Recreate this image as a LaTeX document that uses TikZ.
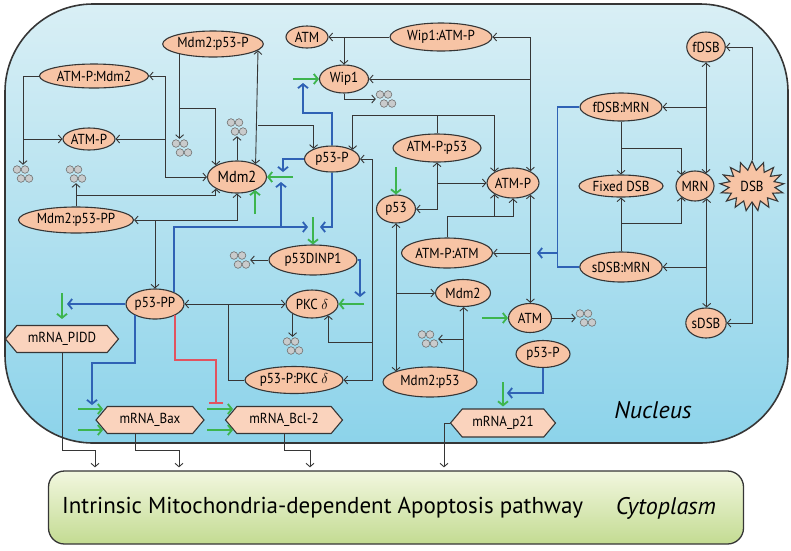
\documentclass[tikz,border=0pt]{standalone}
\usepackage{fontspec}
\setmainfont{PT Sans}
\newfontfamily\nf{PT Sans}[FakeStretch=0.9]
\usetikzlibrary{shapes.geometric,shapes.symbols,arrows.meta}
\definecolor{linec}{HTML}{363636}
\definecolor{nodefill}{HTML}{F7C4A5}
\definecolor{hexfill}{HTML}{FAD3BD}
\definecolor{nucTop}{HTML}{D9EFF5}
\definecolor{nucBot}{HTML}{8CD3EA}
\definecolor{cytTop}{HTML}{F2F7DF}
\definecolor{cytBot}{HTML}{C3DB92}
\definecolor{bluel}{HTML}{2F62B5}
\definecolor{greenl}{HTML}{3DB54E}
\definecolor{redl}{HTML}{E2535F}
\definecolor{degfill}{HTML}{C9CBCC}
\definecolor{degline}{HTML}{6E6E6E}
\tikzset{
 el/.style={ellipse, draw=linec, line width=1.1pt, fill=nodefill, inner sep=0pt, font=\nf\fontsize{14.5}{16}\selectfont},
 hex/.style={signal, signal to=west and east, signal pointer angle=100, draw=linec, line width=1.1pt, fill=hexfill, inner sep=0pt, font=\nf\fontsize{14.5}{16}\selectfont},
 starb/.style={starburst, starburst points=17, starburst point height=9pt, random starburst=0, draw=linec, fill=nodefill, line width=1.1pt, inner sep=0pt, minimum width=64pt, minimum height=50pt, font=\nf\fontsize{14.5}{16}\selectfont},
 degr/.style={rectangle, minimum width=20pt, minimum height=18pt, inner sep=0pt},
 arr/.style={draw=linec, line width=0.9pt, -{Straight Barb[length=3.5pt,width=8pt]}},
 arrs/.style={draw=linec, line width=0.9pt, {Straight Barb[length=3.5pt,width=8pt]}-{Straight Barb[length=3.5pt,width=8pt]}},
 ln/.style={draw=linec, line width=0.9pt},
 barr/.style={draw=bluel, line width=1.8pt, -{Straight Barb[length=4pt,width=10pt]}},
 bln/.style={draw=bluel, line width=1.8pt},
 garr/.style={draw=greenl, line width=1.8pt, -{Straight Barb[length=4pt,width=10pt]}},
 rbar/.style={draw=redl, line width=1.8pt, -{Bar[width=14pt]}},
 cytobox/.style={rectangle, rounded corners=16pt, minimum width=695pt, minimum height=73pt, top color=cytTop, bottom color=cytBot, draw=linec, line width=1.3pt},
}
\begin{document}
\begin{tikzpicture}[x=1pt,y=-1pt]
\useasboundingbox (0,0) rectangle (791,550);
% compartments
\draw[rounded corners=88pt, top color=nucTop, bottom color=nucBot, draw=linec, line width=1.6pt] (5,4) rectangle (788,443);
\node[cytobox] (cyto) at (396,507.5) {};
\node[font=\fontsize{23}{26}\selectfont, anchor=west, inner sep=0pt] (cytxt) at (62,508) {Intrinsic Mitochondria-dependent Apoptosis pathway};
\node[font=\fontsize{24}{28}\selectfont\itshape, inner sep=0pt] (cytlbl) at (666,508) {Cytoplasm};
\node[font=\fontsize{24}{28}\selectfont\itshape, inner sep=0pt] (nuclbl) at (653,410) {Nucleus};

% species
\node[el, minimum width=94pt, minimum height=26pt] (mp) at (213,44) {Mdm2:p53-P};
\node[el, minimum width=109pt, minimum height=24pt] (apm) at (94,76) {ATM-P:Mdm2};
\node[el, minimum width=52pt, minimum height=22pt] (ap1) at (89,139) {ATM-P};
\node[el, minimum width=59pt, minimum height=32pt, font=\nf\fontsize{16}{18}\selectfont] (mdm) at (237,177) {Mdm2};
\node[el, minimum width=42pt, minimum height=22pt] (atm1) at (307,37) {ATM};
\node[el, minimum width=102pt, minimum height=28pt] (wap) at (441,37) {Wip1:ATM-P};
\node[el, minimum width=49pt, minimum height=28pt] (wip) at (344,79) {Wip1};
\node[el, minimum width=55pt, minimum height=26pt] (p53p) at (332,159) {p53-P};
\node[el, minimum width=88pt, minimum height=28pt] (app53) at (437,148) {ATM-P:p53};
\node[el, minimum width=52pt, minimum height=30pt] (ap2) at (513,183) {ATM-P};
\node[el, minimum width=39pt, minimum height=28pt] (p53) at (396,209) {p53};
\node[el, minimum width=38pt, minimum height=30pt] (fdsb) at (706,47) {fDSB};
\node[el, minimum width=82pt, minimum height=28pt] (fmrn) at (621,107) {fDSB:MRN};
\node[el, minimum width=84pt, minimum height=22pt] (fixed) at (621,186) {Fixed DSB};
\node[el, minimum width=36pt, minimum height=30pt] (mrn) at (695,186) {MRN};
\node[starb] (dsb) at (752,186) {DSB};
\node[el, minimum width=91pt, minimum height=30pt] (apatm) at (447,253) {ATM-P:ATM};
\node[el, minimum width=80pt, minimum height=30pt] (smrn) at (621,267) {sDSB:MRN};
\node[el, minimum width=36pt, minimum height=30pt] (sdsb) at (706,323) {sDSB};
\node[el, minimum width=115pt, minimum height=26pt] (mpp) at (76,220) {Mdm2:p53-PP};
\node[el, minimum width=88pt, minimum height=30pt] (dinp) at (313,260) {p53DINP1};
\node[el, minimum width=58pt, minimum height=30pt] (p53pp) at (155,304) {p53-PP};
\node[el, minimum width=52pt, minimum height=28pt] (pkc) at (312,304) {PKC $\delta$};
\node[el, minimum width=55pt, minimum height=27pt] (mdm2b) at (463,293) {Mdm2};
\node[el, minimum width=43pt, minimum height=29pt] (atm2) at (530,318) {ATM};
\node[el, minimum width=54pt, minimum height=27pt] (p53p2) at (543,354) {p53-P};
\node[el, minimum width=94pt, minimum height=30pt] (mp53) at (430,382) {Mdm2:p53};
\node[el, minimum width=98pt, minimum height=27pt] (ppkc) at (294,380) {p53-P:PKC $\delta$};
\node[hex, minimum width=113pt, minimum height=27pt] (pidd) at (62,339) {mRNA\_PIDD};
\node[hex, minimum width=108pt, minimum height=27pt] (bax) at (150,420) {mRNA\_Bax};
\node[hex, minimum width=117pt, minimum height=27pt] (bcl) at (284,420) {mRNA\_Bcl-2};
\node[hex, minimum width=105pt, minimum height=28pt] (p21) at (503,423) {mRNA\_p21};

% degradation symbols
\node[degr] (d1) at (23,174) {};
\node[degr] (d2) at (76,174) {};
\node[degr] (d3) at (182,148) {};
\node[degr] (d4) at (237,127) {};
\node[degr] (d5) at (386,99) {};
\node[degr] (d6) at (240,260) {};
\node[degr] (d7) at (293,346) {};
\node[degr] (d8) at (428,339) {};
\node[degr] (d9) at (586,318) {};
\foreach \n in {d1,d2,d3,d4,d5,d6,d7,d8,d9}{
  \foreach \dx/\dy in {-6/4.5,2/4.5,-2/-4.5,6/-4.5}
    \draw[degline, fill=degfill, line width=0.6pt] ([shift={(\dx pt,\dy pt)}]\n.center) circle[radius=3.8pt];
}

% ATM-P:Mdm2
\draw[arr] (apm.west) -| (d1.north);
\draw[arr] (d1.north |- ap1.west) -- (ap1.west);
\draw[arrs] (apm.east) -| (165,177) -- (mdm.west);
\draw[arr] (ap1.east -| 165,0) -- (ap1.east);
% Mdm2:p53-P
\draw[arr] (mp.197) -- (mp.197 |- d3.north);
\draw[arr] (mp.197 |- 0,108) -| (mdm.151);
\draw[arrs] (mp.-8) -- (mdm.35);
\draw[arr] (mp.-8 |- 0,125) -| (p53p.151);
\draw[arr] (mdm.north) -- (d4.south);
% Mdm2:p53-PP
\draw[arr] (mpp.north) -- (d2.south);
\draw[arr] (mpp.north |- 0,195) -| (mdm.209);
\draw[arrs] (mpp.east) -| (mdm.south);
\draw[arr] (p53pp.north |- mpp.east) -- (p53pp.north);
% Wip1
\draw[arr] (wap.west) -- (atm1.east);
\draw[arr] (wip.north |- wap.west) -- (wip.north);
\draw[arr] (wip.south) |- (d5.west);
\draw[arrs] (wap.east) -| (ap2.34);
\draw[arr] (ap2.34 |- wip.east) -- (wip.east);
% ATM-P:p53
\draw[ln] (app53.north) -- (app53.north |- 0,115);
\draw[arr] (app53.north |- 0,115) -| (p53p.24);
\draw[arr] (app53.north |- 0,115) -| (ap2.149);
\draw[arrs] (app53.south) |- (p53.east);
\draw[arr] (app53.south |- ap2.west) -- (ap2.west);
% ATM-P:ATM
\draw[arr] (apatm.north) |- (ap2.south |- 0,216) -- (ap2.south);
\draw[arr] (ap2.-149 |- 0,216) -- (ap2.-149);
\draw[arrs] (ap2.-34) -- (ap2.-34 |- atm2.north);
\draw[arr] (ap2.-34 |- apatm.east) -- (apatm.east);
\draw[arr] (atm2.east) -- (d9.west);
% DSB / MRN
\draw[arr] (dsb.north) |- (fdsb.east);
\draw[arr] (dsb.south) |- (sdsb.east);
\draw[arrs] (fdsb.south) -- (fdsb.south |- mrn.47);
\draw[arr] (fdsb.south |- fmrn.east) -- (fmrn.east);
\draw[arrs] (mrn.-47) -- (mrn.-47 |- sdsb.north);
\draw[arr] (mrn.-47 |- smrn.east) -- (smrn.east);
\draw[arr] (fmrn.south) -- (fixed.north);
\draw[arr] (fmrn.south |- 0,148) -| (mrn.141);
\draw[arr] (smrn.north) -- (fixed.south);
\draw[arr] (smrn.north |- 0,223) -| (mrn.-141);
% p53 / Mdm2 lower
\draw[arrs] (p53.south) -- (p53.south |- mp53.163);
\draw[arr] (p53.south |- mdm2b.west) -- (mdm2b.west);
\draw[arr] (mp53.18) -- (mp53.18 |- mdm2b.south);
\draw[arr] (mp53.18 |- d8.east) -- (d8.east);
% PKC delta
\draw[arrs] (p53pp.east) -- (pkc.west);
\draw[ln] (ppkc.west) -| (p53pp.east -| 228,0);
\draw[arrs] (p53p.east) -| (372,380) -- (ppkc.east);
\draw[arr] (372,342) -| (pkc.-35);
\draw[arr] (pkc.207) -- (pkc.207 |- d7.north);
\draw[arr] (dinp.west) -- (d6.east);
% to cytoplasm
\draw[arr, shorten >=3pt] (pidd.south) |- (95,450) -- (95,0 |- cyto.north);
\draw[arr, shorten >=3pt] (bax.south -| 135,0) |- (179,450) -- (179,0 |- cyto.north);
\draw[arr, shorten >=3pt] (bcl.south) |- (310,450) -- (310,0 |- cyto.north);
\draw[arr, shorten >=3pt] (p21.west) -| (444,0 |- cyto.north);

% blue regulation
\coordinate (tb1) at (303,83);
\coordinate (tb2) at (283,172);
\coordinate (tb3) at (320,227);
\coordinate (tb4) at (308,227);
\coordinate (tb5) at (281,182);
\coordinate (tb6) at (67,304);
\coordinate (tb7) at (92,405);
\coordinate (tb8) at (537,253);
\coordinate (tb9) at (507,393);
\coordinate (tb10) at (360,297);
\coordinate (tr1) at (216,404);
\draw[barr] (p53p.north) |- (tb1 |- 0,113) -- (tb1);
\draw[barr] (p53p.west) -| (tb2);
\draw[barr] (p53p.south) |- (tb3);
\draw[barr] (p53pp.33) |- (tb4);
\draw[barr] (tb5 |- tb4) -- (tb5);
\draw[barr] (p53pp.west) -- (tb6);
\draw[barr] (p53pp.209) |- (tb7 |- 0,363) -- (tb7);
\draw[barr] (p53p2.south) |- (tb9);
\draw[barr] (dinp.east) -| (tb10);
\draw[bln] (fmrn.west) -- ++(-22,0) |- (smrn.west);
\draw[barr] (tb8 -| 558,0) -- (tb8);
\draw[rbar] (p53pp.-29) |- (tr1 |- 0,360) -- (tr1);

% green production arrows
\coordinate (g1) at (293,79);
\coordinate (g2) at (293,177);
\coordinate (g3) at (255,214);
\coordinate (g4) at (313,217);
\coordinate (g5) at (396,167);
\coordinate (g6) at (364,304);
\coordinate (g7) at (482,318);
\coordinate (g8) at (62,293);
\coordinate (g9) at (78,409);
\coordinate (g9e) at (103,409);
\coordinate (g10) at (78,430);
\coordinate (g10e) at (103,430);
\coordinate (g11) at (207,409);
\coordinate (g11e) at (233,409);
\coordinate (g12) at (207,430);
\coordinate (g12e) at (233,430);
\coordinate (g13) at (503,382);
\draw[garr] (g1) -- (wip.west);
\draw[garr] (g2) -- (mdm.east);
\draw[garr] (g3) -- (g3 |- mdm.-35);
\draw[garr] (g4) -- (dinp.north);
\draw[garr] (g5) -- (p53.north);
\draw[garr] (g6) -- (pkc.east);
\draw[garr] (g7) -- (atm2.west);
\draw[garr, shorten >=6pt] (g8) -- (pidd.north);
\draw[garr] (g9) -- (g9e);
\draw[garr] (g10) -- (g10e);
\draw[garr] (g11) -- (g11e);
\draw[garr] (g12) -- (g12e);
\draw[garr, shorten >=2pt] (g13) -- (g13 |- p21.north);
\end{tikzpicture}
\end{document}
